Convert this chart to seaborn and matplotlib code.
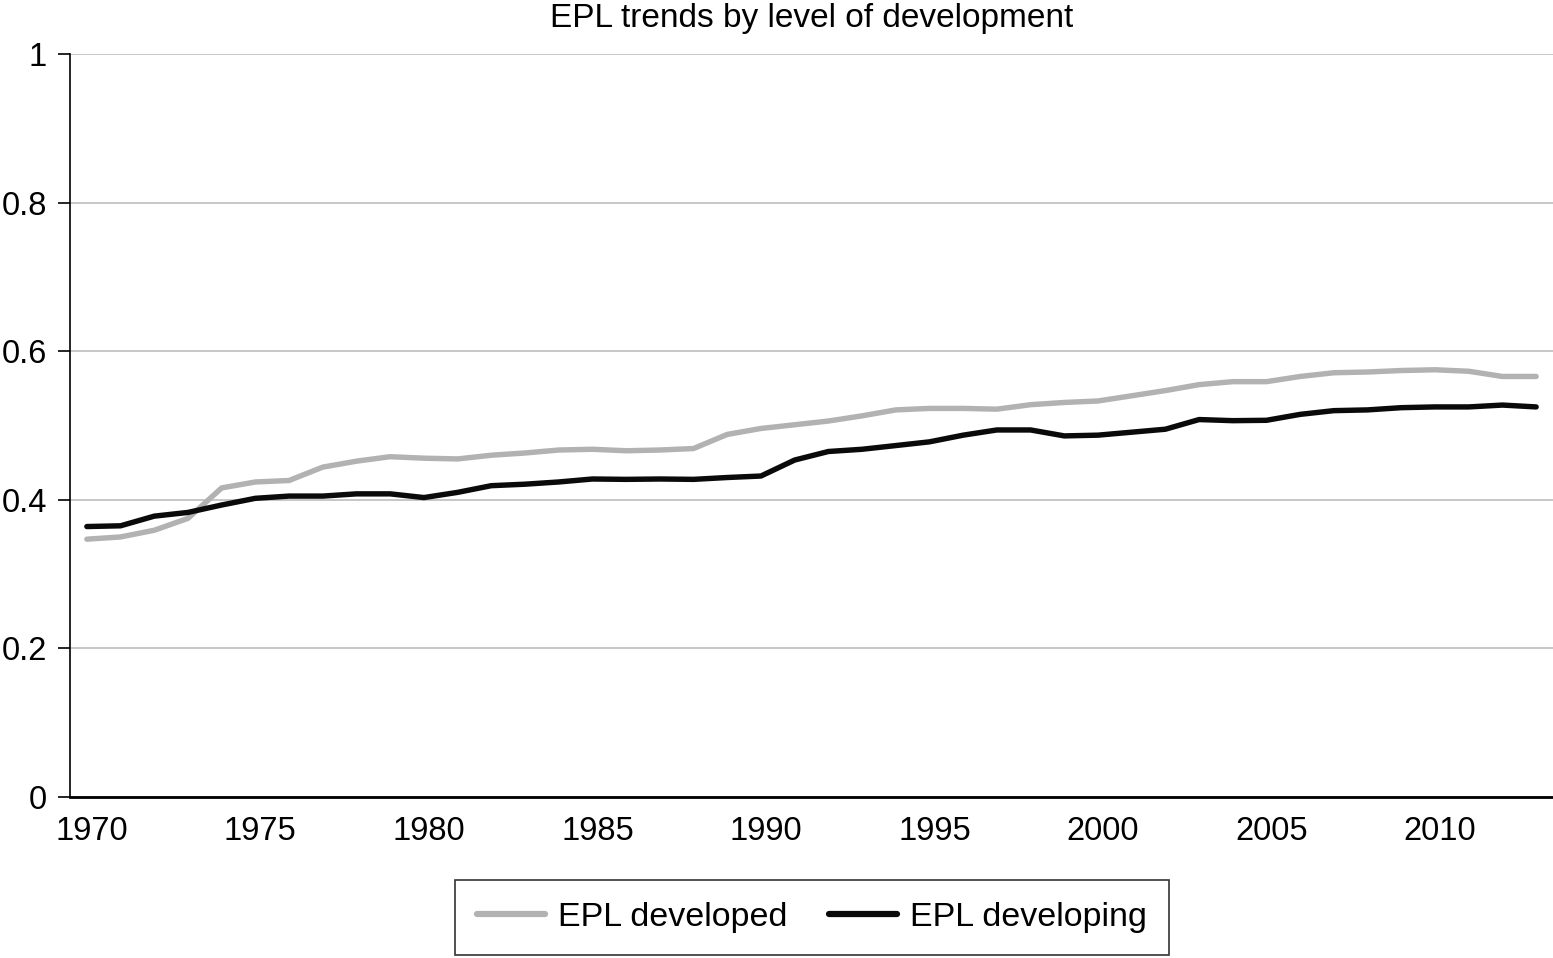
import matplotlib
matplotlib.use("Agg")
import matplotlib.pyplot as plt
import matplotlib.transforms as mtransforms
import seaborn as sns
import pandas as pd
import numpy as np

years = list(range(1970, 2014))
developed = [0.347, 0.350, 0.359, 0.375, 0.416, 0.424, 0.426, 0.444, 0.452, 0.458,
             0.456, 0.455, 0.460, 0.463, 0.467, 0.468, 0.466, 0.467, 0.469, 0.488,
             0.496, 0.501, 0.506, 0.513, 0.521, 0.523, 0.523, 0.522, 0.528, 0.531,
             0.533, 0.540, 0.547, 0.555, 0.559, 0.559, 0.566, 0.571, 0.572, 0.574,
             0.575, 0.573, 0.566, 0.566]
developing = [0.364, 0.365, 0.378, 0.383, 0.393, 0.402, 0.405, 0.405, 0.408, 0.408,
              0.403, 0.410, 0.419, 0.421, 0.424, 0.428, 0.4275, 0.428, 0.4275, 0.430,
              0.432, 0.4535, 0.465, 0.468, 0.473, 0.478, 0.487, 0.494, 0.494, 0.486,
              0.487, 0.491, 0.495, 0.508, 0.5065, 0.507, 0.515, 0.520, 0.521, 0.524,
              0.525, 0.525, 0.5275, 0.525]
series_names = ["EPL developed", "EPL developing"]
colors = ["#b2b2b2", "#0a0a0a"]
yticks = [0, 0.2, 0.4, 0.6, 0.8, 1]
ytick_labels = ["0", "0.2", "0.4", "0.6", "0.8", "1"]
xticks = list(range(1970, 2011, 5))
title = "EPL trends by level of development"

df = pd.DataFrame({
    "year": years * 2,
    "value": developed + developing,
    "series": [series_names[0]] * len(years) + [series_names[1]] * len(years),
})

sns.set_style("white")
plt.rcParams["font.family"] = ["Liberation Sans", "DejaVu Sans"]
plt.rcParams["text.color"] = "black"
plt.rcParams["xtick.color"] = "black"
plt.rcParams["ytick.color"] = "black"
plt.rcParams["axes.labelcolor"] = "black"

fig = plt.figure(figsize=(15.53, 9.58), dpi=100)
ax = fig.add_axes([70 / 1553, (958 - 797) / 958, (1553 - 70) / 1553, (797 - 54) / 958])

sns.lineplot(data=df, x="year", y="value", hue="series", hue_order=series_names,
             palette=dict(zip(series_names, colors)), linewidth=3.9, ax=ax,
             legend=True)
for ln in ax.lines:
    ln.set_solid_joinstyle("round")

ax.set_xlim(1969.5, 2013.5)
ax.set_ylim(0, 1)
ax.set_yticks(yticks)
ax.set_yticklabels(ytick_labels)
ax.set_xticks(xticks)
ax.set_xticklabels([str(x) for x in xticks])
ax.set_xlabel("")
ax.set_ylabel("")
ax.yaxis.grid(True, color="#bdbdbd", linewidth=1.2)
ax.xaxis.grid(False)
ax.set_axisbelow(True)
for s in ["top", "right"]:
    ax.spines[s].set_visible(False)
ax.spines["left"].set_color("black")
ax.spines["left"].set_linewidth(1.2)
ax.spines["bottom"].set_color("black")
ax.spines["bottom"].set_linewidth(2.0)
ax.tick_params(axis="y", which="major", length=8.6, width=1.2, colors="black",
               pad=8, labelsize=23.5, left=True)
ax.tick_params(axis="x", which="major", length=0, pad=14, labelsize=23.5,
               colors="black")
offset = mtransforms.ScaledTranslation(5 / 100, 0, fig.dpi_scale_trans)
for lbl in ax.get_xticklabels():
    lbl.set_transform(lbl.get_transform() + offset)

handles, labels = ax.get_legend_handles_labels()
ax.get_legend().remove()
leg = fig.legend(handles, labels, loc="center", bbox_to_anchor=(812 / 1553, 1 - 917.5 / 958),
                 ncol=2, frameon=True, fancybox=False, edgecolor="black", fontsize=24.5,
                 handlelength=2.0, handletextpad=0.4, columnspacing=1.2, borderpad=0.65)
leg.get_frame().set_linewidth(1.2)
for h in leg.get_lines():
    h.set_linewidth(4.5)
for t in leg.get_texts():
    t.set_color("black")

fig.text(812 / 1553, 1 - 19 / 958, title, ha="center", va="center", fontsize=24,
         color="black")

fig.savefig("out.png", dpi=100)
